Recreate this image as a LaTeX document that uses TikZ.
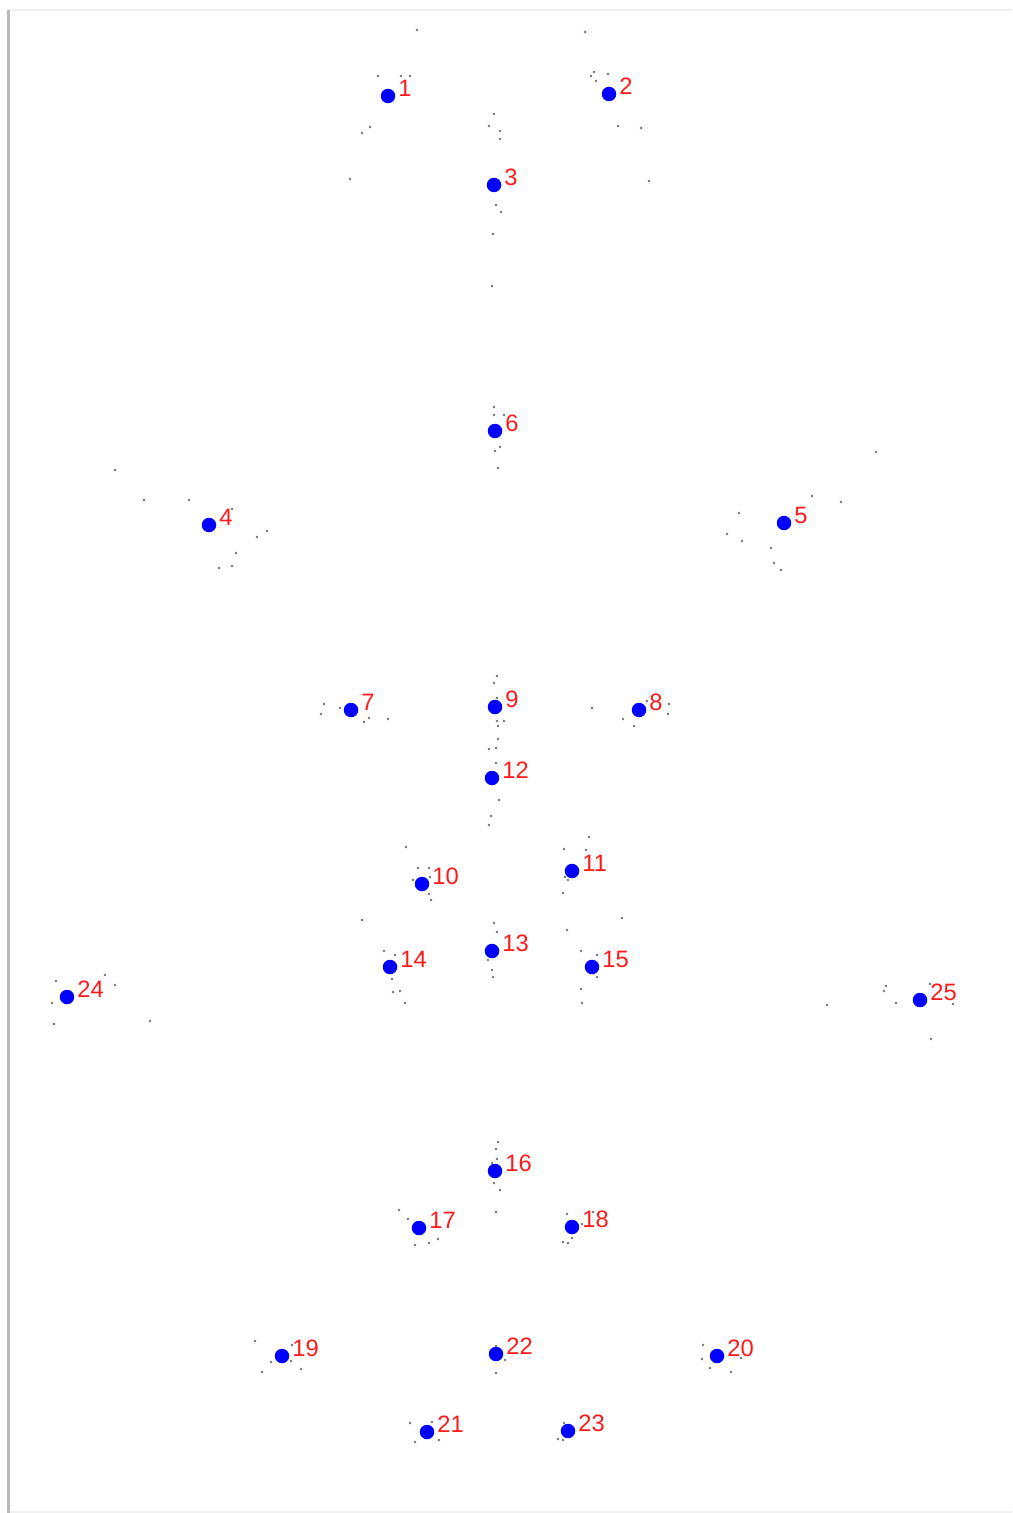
\documentclass[tikz,border=0pt]{standalone}
\usepackage{fontspec}
\setmainfont{Liberation Sans}
\usepackage{tikz}
\usetikzlibrary{positioning}
\definecolor{jointBlue}{HTML}{0000FF}
\definecolor{jointRed}{HTML}{FF1A1A}

\begin{document}
\begin{tikzpicture}[x=0.02cm, y=-0.02cm,
  jt/.style={circle, fill=jointBlue, inner sep=0pt, minimum size=0.29cm},
  lbl/.style={anchor=west, inner sep=0pt, text=jointRed, font=\fontsize{13.5}{14}\selectfont},
  speck/.style={fill=black!55}]
\useasboundingbox (0,0) rectangle (1012,1513);
% frame edges
\fill[gray!12] (8,9) rectangle (1012,11);
\fill[gray!12] (8,1511) rectangle (1012,1513);
\fill[gray!55] (7,10) rectangle (10,1513);
% scattered samples
\foreach \x/\y in {417/30, 585/32, 378/76, 401/76, 410/76, 370/127, 362/133, 350/179,
  494/114, 489/126, 500/131, 500/139, 496/205, 501/212, 493/234, 492/286,
  591/76, 594/72, 596/81, 608/74, 618/126, 641/128, 649/181,
  494/407, 494/415, 504/415, 495/451, 500/447, 498/468,
  115/470, 144/500, 189/500, 232/509, 257/537, 267/531, 236/553, 219/568, 232/566,
  876/452, 812/496, 841/502, 739/513, 727/534, 742/541, 771/548, 774/563, 781/570,
  324/704, 321/714, 340/708, 369/718, 364/722, 388/719,
  497/676, 494/683, 497/698, 497/721, 504/721, 498/726, 498/739, 496/748, 489/749,
  496/763, 499/800, 491/816, 489/825,
  592/708, 623/719, 634/726, 647/701, 669/704, 668/714,
  406/847, 418/868, 429/868, 430/877, 413/880, 429/894, 431/900,
  589/837, 564/849, 586/850, 568/880, 565/877, 563/893,
  362/920, 494/923, 497/932, 488/960, 492/970, 493/977,
  384/951, 395/955, 421/954, 392/979, 393/992, 400/991, 405/1003,
  567/930, 622/918, 581/951, 597/955, 597/977, 581/989, 582/1003,
  56/981, 52/1003, 105/975, 115/985, 54/1024, 150/1021,
  827/1005, 886/986, 884/991, 896/1003, 930/984, 953/1004, 931/1039,
  498/1142, 496/1149, 497/1159, 492/1163, 494/1183, 500/1190, 496/1212,
  399/1210, 408/1219, 415/1245, 429/1243, 438/1239,
  567/1214, 593/1212, 582/1224, 563/1242, 568/1243, 572/1238,
  255/1341, 262/1372, 271/1362, 291/1361, 301/1369, 292/1345,
  496/1346, 505/1360, 496/1373,
  703/1345, 702/1359, 710/1368, 731/1372, 741/1358,
  410/1423, 432/1422, 415/1442, 439/1440,
  564/1423, 558/1439, 563/1440}
  \fill[speck] (\x,\y) circle (1.3);
% joints with their numbers
\foreach \i/\x/\y in {1/388/96, 2/609/94, 3/494/185, 4/209/525, 5/784/523,
  6/495/431, 7/351/710, 8/639/710, 9/495/707, 10/422/884, 11/572/871,
  12/492/778, 13/492/951, 14/390/967, 15/592/967, 16/495/1171, 17/419/1228,
  18/572/1227, 19/282/1356, 20/717/1356, 21/427/1432, 22/496/1354,
  23/568/1431, 24/67/997, 25/920/1000}
{
  \node[jt] (j\i) at (\x,\y) {};
  \node[lbl] (l\i) at ([shift={(10,-8)}]j\i.center) {\i};
}
\end{tikzpicture}
\end{document}
